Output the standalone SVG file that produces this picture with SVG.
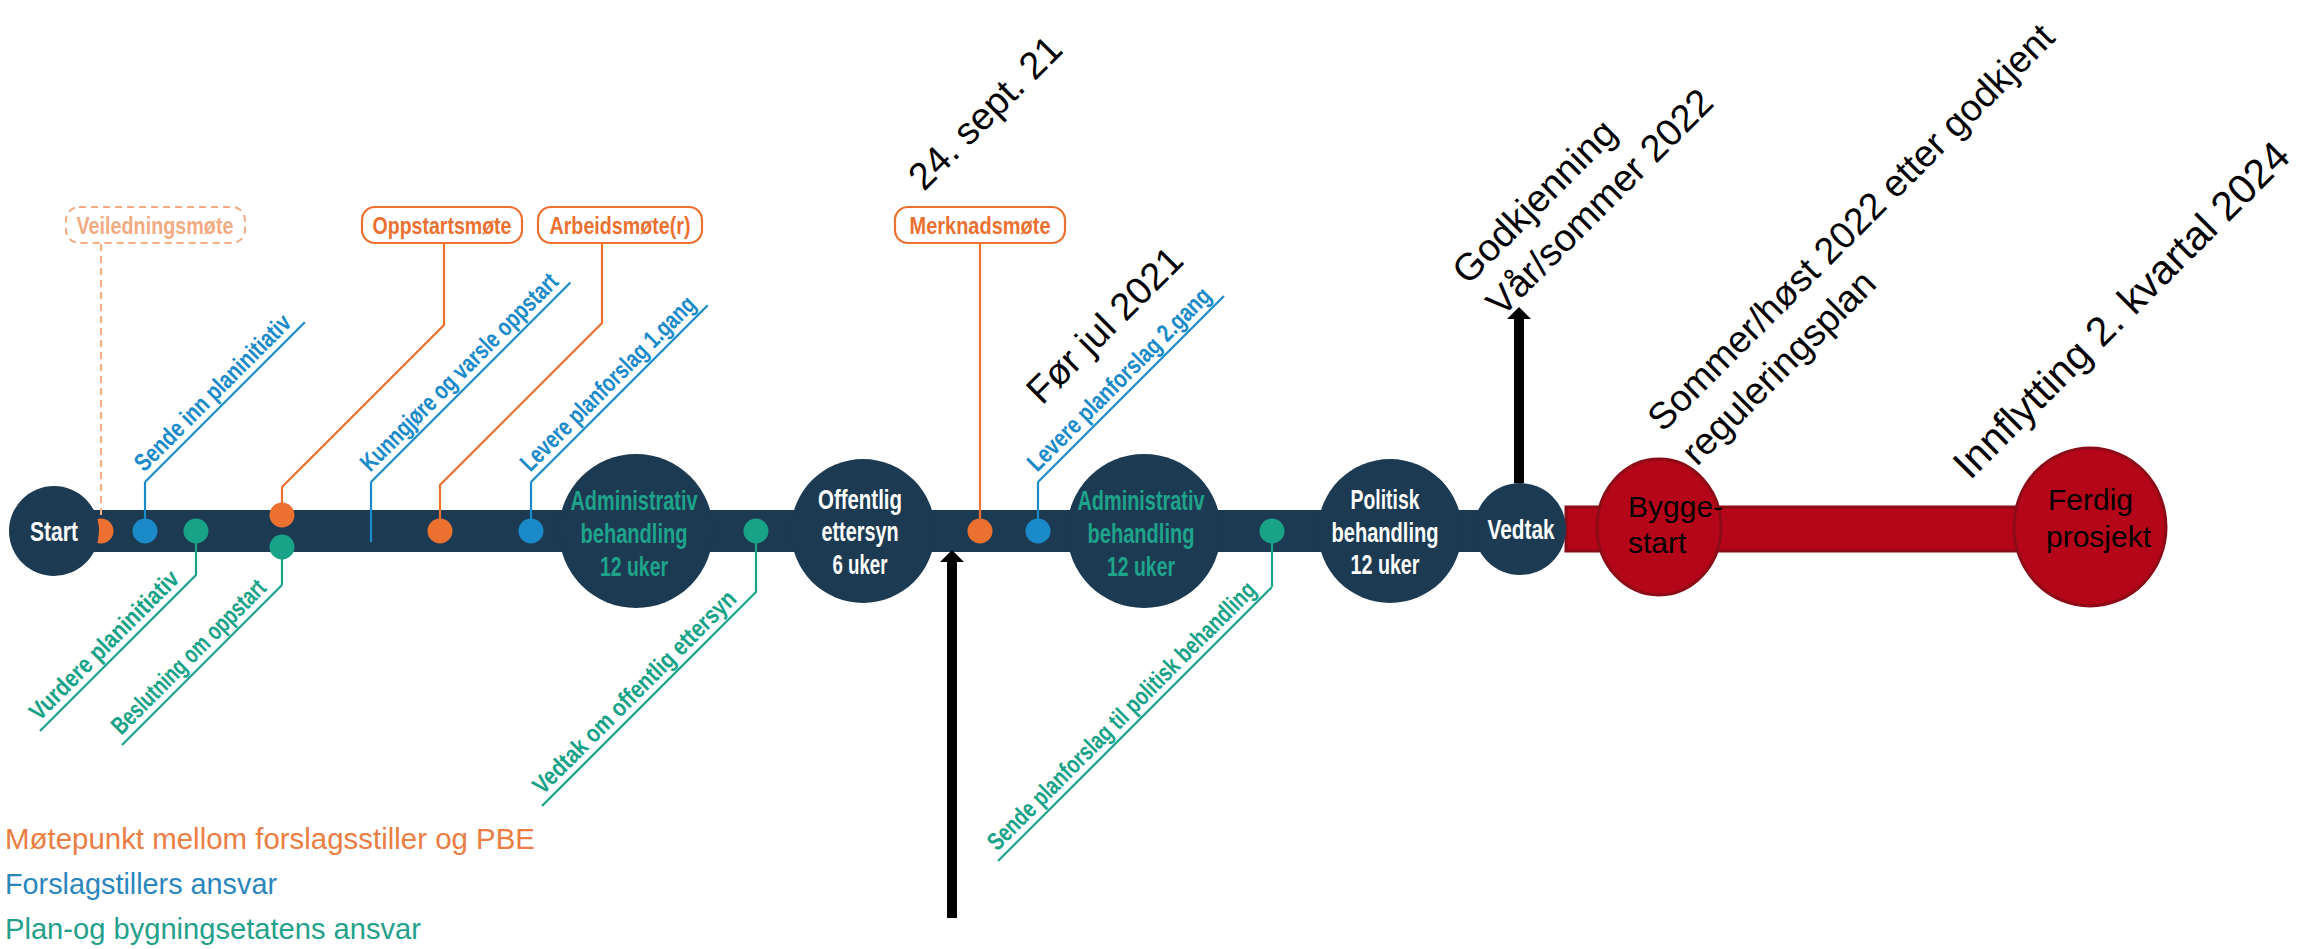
<svg xmlns="http://www.w3.org/2000/svg" width="2303" height="949" viewBox="0 0 2303 949">
<defs>
<style>
.navy{fill:#1c3b53}
.or{fill:#ec7030}
.bl{fill:#1b8ac8}
.te{fill:#18a288}
.sor{stroke:#ec7030;stroke-width:2.2;fill:none}
.sbl{stroke:#1b8ac8;stroke-width:2.2;fill:none}
.ste{stroke:#18a288;stroke-width:2.2;fill:none}
.cond{font-family:"Liberation Sans Narrow","Liberation Sans",Arial,sans-serif;font-weight:bold}
.lab{font-size:25px}
.box{fill:#ffffff;stroke:#ec7030;stroke-width:2.2}
.boxt{font-size:24px;fill:#ec7030;text-anchor:middle}
.ct{font-size:28px;text-anchor:middle}
.white{fill:#ffffff}
.adm{fill:#1fa38b}
.blk{font-family:"Liberation Sans",Arial,sans-serif;fill:#000000}
.leg{font-family:"Liberation Sans",Arial,sans-serif;font-size:29px}
.red{fill:#b50519;stroke:#8c0b16;stroke-width:3}
.arr{stroke:#000000;stroke-width:10;fill:none}
</style>
<marker id="ah" markerUnits="userSpaceOnUse" viewBox="0 0 12 24" markerWidth="12" markerHeight="24" refX="0" refY="12" orient="auto">
<path d="M0,0 L12,12 L0,24 Z" fill="#000000"/>
</marker>
</defs>
<rect x="0" y="0" width="2303" height="949" fill="#ffffff"/>

<g id="timeline">
<rect class="navy" x="54" y="510" width="1466" height="42"/>
<rect class="red" x="1566" y="507" width="458" height="44"/>
</g>

<g id="connectors">
<line x1="101" y1="244" x2="101" y2="519" stroke="#f2ab82" stroke-width="2" stroke-dasharray="7 5"/>
<polyline class="sor" points="444,244 444,325 282,487 282,515"/>
<polyline class="sor" points="602,244 602,323 440,485 440,531"/>
<line class="sor" x1="980" y1="244" x2="980" y2="531"/>
<line class="sbl" x1="145" y1="531" x2="145" y2="482"/>
<line class="sbl" x1="371" y1="542" x2="371" y2="482"/>
<line class="sbl" x1="531" y1="531" x2="531" y2="482"/>
<line class="sbl" x1="1038" y1="531" x2="1038" y2="482"/>
<line class="ste" x1="196" y1="531" x2="196" y2="575"/>
<line class="ste" x1="282" y1="547" x2="282" y2="585"/>
<line class="ste" x1="756" y1="531" x2="756" y2="592"/>
<line class="ste" x1="1272" y1="531" x2="1272" y2="587"/>
<line class="arr" x1="952" y1="918" x2="952" y2="562" marker-end="url(#ah)"/>
<line class="arr" x1="1519" y1="483" x2="1519" y2="319" marker-end="url(#ah)"/>
</g>

<g id="dots">
<circle class="or" cx="101" cy="531" r="12.5"/>
<circle class="bl" cx="145" cy="531" r="12.5"/>
<circle class="te" cx="196" cy="531" r="12.5"/>
<circle class="or" cx="282" cy="515" r="12.5"/>
<circle class="te" cx="282" cy="547" r="12.5"/>
<circle class="or" cx="440" cy="531" r="12.5"/>
<circle class="bl" cx="531" cy="531" r="12.5"/>
<circle class="te" cx="756" cy="531" r="12.5"/>
<circle class="or" cx="980" cy="531" r="12.5"/>
<circle class="bl" cx="1038" cy="531" r="12.5"/>
<circle class="te" cx="1272" cy="531" r="12.5"/>
</g>

<g id="start">
<circle class="navy" cx="54" cy="531" r="45"/>
<text class="cond ct white" x="54" y="541" textLength="48" lengthAdjust="spacingAndGlyphs">Start</text>
</g>
<g id="admin1">
<circle class="navy" cx="636" cy="531" r="77"/>
<text class="cond ct adm" x="634" y="510" textLength="127" lengthAdjust="spacingAndGlyphs">Administrativ</text>
<text class="cond ct adm" x="634" y="543" textLength="107" lengthAdjust="spacingAndGlyphs">behandling</text>
<text class="cond ct adm" x="634" y="576" textLength="68" lengthAdjust="spacingAndGlyphs">12 uker</text>
</g>
<g id="offentlig">
<circle class="navy" cx="863" cy="531" r="72"/>
<text class="cond ct white" x="860" y="509" textLength="84" lengthAdjust="spacingAndGlyphs">Offentlig</text>
<text class="cond ct white" x="860" y="541" textLength="77" lengthAdjust="spacingAndGlyphs">ettersyn</text>
<text class="cond ct white" x="860" y="574" textLength="55" lengthAdjust="spacingAndGlyphs">6 uker</text>
</g>
<g id="admin2">
<circle class="navy" cx="1144" cy="531" r="77"/>
<text class="cond ct adm" x="1141" y="510" textLength="127" lengthAdjust="spacingAndGlyphs">Administrativ</text>
<text class="cond ct adm" x="1141" y="543" textLength="107" lengthAdjust="spacingAndGlyphs">behandling</text>
<text class="cond ct adm" x="1141" y="576" textLength="68" lengthAdjust="spacingAndGlyphs">12 uker</text>
</g>
<g id="politisk">
<circle class="navy" cx="1390" cy="531" r="72"/>
<text class="cond ct white" x="1385" y="509" textLength="69" lengthAdjust="spacingAndGlyphs">Politisk</text>
<text class="cond ct white" x="1385" y="542" textLength="107" lengthAdjust="spacingAndGlyphs">behandling</text>
<text class="cond ct white" x="1385" y="574" textLength="69" lengthAdjust="spacingAndGlyphs">12 uker</text>
</g>
<g id="vedtak">
<circle class="navy" cx="1520" cy="529" r="46"/>
<text class="cond ct white" x="1521" y="539" textLength="67" lengthAdjust="spacingAndGlyphs">Vedtak</text>
</g>

<g id="byggestart">
<ellipse class="red" cx="1659" cy="527" rx="62" ry="68"/>
<text class="blk" x="1628" y="517" font-size="30">Bygge-</text>
<text class="blk" x="1628" y="553" font-size="30">start</text>
</g>
<g id="ferdig">
<ellipse class="red" cx="2090" cy="527" rx="76" ry="79"/>
<text class="blk" x="2048" y="510" font-size="30">Ferdig</text>
<text class="blk" x="2046" y="547" font-size="30">prosjekt</text>
</g>

<g id="box-veiledning">
<rect x="66" y="207" width="179" height="36" rx="13" fill="#ffffff" stroke="#f2ab82" stroke-width="2" stroke-dasharray="7 5"/>
<text class="cond boxt" x="155" y="234" style="fill:#f2ab82" textLength="157" lengthAdjust="spacingAndGlyphs">Veiledningsmøte</text>
</g>
<g id="box-oppstart">
<rect class="box" x="362" y="207" width="160" height="36" rx="13"/>
<text class="cond boxt" x="442" y="234" textLength="139" lengthAdjust="spacingAndGlyphs">Oppstartsmøte</text>
</g>
<g id="box-arbeid">
<rect class="box" x="538" y="207" width="164" height="36" rx="13"/>
<text class="cond boxt" x="620" y="234" textLength="141" lengthAdjust="spacingAndGlyphs">Arbeidsmøte(r)</text>
</g>
<g id="box-merknad">
<rect class="box" x="895" y="207" width="170" height="36" rx="13"/>
<text class="cond boxt" x="980" y="234" textLength="141" lengthAdjust="spacingAndGlyphs">Merknadsmøte</text>
</g>

<g id="lab-sende-inn" transform="translate(145,482) rotate(-45)">
<line class="sbl" x1="0" y1="0" x2="226" y2="0"/>
<text class="cond lab bl" x="6" y="-7" textLength="210" lengthAdjust="spacingAndGlyphs">Sende inn planinitiativ</text>
</g>
<g id="lab-kunngjore" transform="translate(371,482) rotate(-45)">
<line class="sbl" x1="0" y1="0" x2="282" y2="0"/>
<text class="cond lab bl" x="6" y="-7" textLength="268" lengthAdjust="spacingAndGlyphs">Kunngjøre og varsle oppstart</text>
</g>
<g id="lab-levere1" transform="translate(531,482) rotate(-45)">
<line class="sbl" x1="0" y1="0" x2="250" y2="0"/>
<text class="cond lab bl" x="6" y="-7" textLength="236" lengthAdjust="spacingAndGlyphs">Levere planforslag 1.gang</text>
</g>
<g id="lab-levere2" transform="translate(1038,482) rotate(-45)">
<line class="sbl" x1="0" y1="0" x2="263" y2="0"/>
<text class="cond lab bl" x="6" y="-7" textLength="248" lengthAdjust="spacingAndGlyphs">Levere planforslag 2.gang</text>
</g>
<g id="lab-vurdere" transform="translate(40,731) rotate(-45)">
<line class="ste" x1="0" y1="0" x2="221" y2="0"/>
<text class="cond lab te" x="6" y="-7" textLength="200" lengthAdjust="spacingAndGlyphs">Vurdere planinitiativ</text>
</g>
<g id="lab-beslutning" transform="translate(122,745) rotate(-45)">
<line class="ste" x1="0" y1="0" x2="226" y2="0"/>
<text class="cond lab te" x="6" y="-7" textLength="207" lengthAdjust="spacingAndGlyphs">Beslutning om oppstart</text>
</g>
<g id="lab-vedtak-om" transform="translate(542,806) rotate(-45)">
<line class="ste" x1="0" y1="0" x2="303" y2="0"/>
<text class="cond lab te" x="8" y="-7" textLength="276" lengthAdjust="spacingAndGlyphs">Vedtak om offentlig ettersyn</text>
</g>
<g id="lab-sende-plan" transform="translate(998,861) rotate(-45)">
<line class="ste" x1="0" y1="0" x2="387" y2="0"/>
<text class="cond lab te" x="6" y="-7" textLength="368" lengthAdjust="spacingAndGlyphs">Sende planforslag til politisk behandling</text>
</g>

<g id="note-sept">
<text class="blk" font-size="38" transform="translate(924,192) rotate(-45)">24. sept. 21</text>
</g>
<g id="note-forjul">
<text class="blk" font-size="38" transform="translate(1042,406) rotate(-45)">Før jul 2021</text>
</g>
<g id="note-godkjenning">
<text class="blk" font-size="38" transform="translate(1468,286) rotate(-45)">Godkjenning</text>
<text class="blk" font-size="38" transform="translate(1502,318) rotate(-45)">Vår/sommer 2022</text>
</g>
<g id="note-sommer">
<text class="blk" font-size="37.5" transform="translate(1663,433) rotate(-45)">Sommer/høst 2022 etter godkjent</text>
<text class="blk" font-size="37.5" transform="translate(1697,467) rotate(-45)">reguleringsplan</text>
</g>
<g id="note-innflytting">
<text class="blk" font-size="41" transform="translate(1970,481) rotate(-45)">Innflytting 2. kvartal 2024</text>
</g>

<g id="legend">
<text class="leg" x="5" y="849" fill="#eb7d43" textLength="530" lengthAdjust="spacingAndGlyphs">Møtepunkt mellom forslagsstiller og PBE</text>
<text class="leg" x="5" y="894" fill="#2a86bd" textLength="272" lengthAdjust="spacingAndGlyphs">Forslagstillers ansvar</text>
<text class="leg" x="5" y="939" fill="#24a08b" textLength="416" lengthAdjust="spacingAndGlyphs">Plan-og bygningsetatens ansvar</text>
</g>
</svg>
